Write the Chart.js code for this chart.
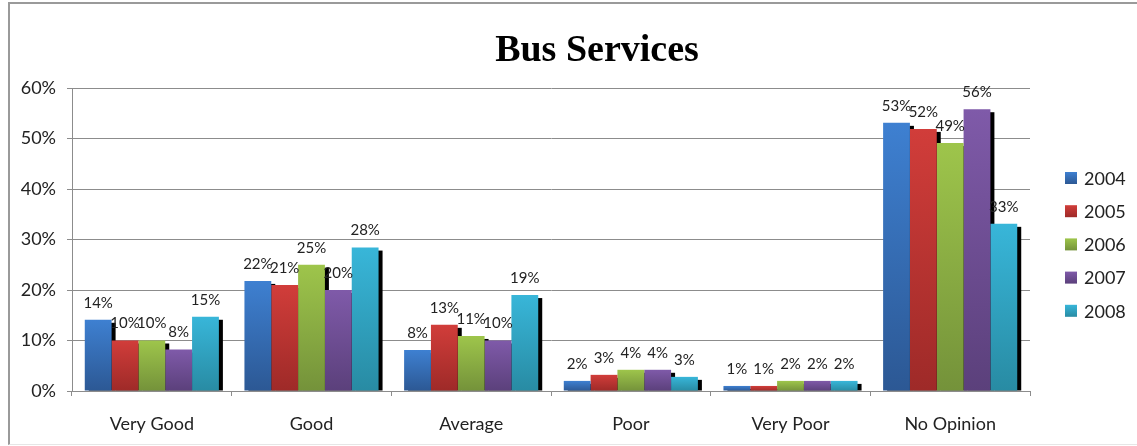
<!DOCTYPE html>
<html>
<head>
<meta charset="utf-8">
<script src="https://cdn.jsdelivr.net/npm/chart.js@4"></script>
<style>
  html, body { margin: 0; padding: 0; background: #fff; }
  #wrap { position: relative; width: 1137px; height: 446px; overflow: hidden; }
  #frame { position: absolute; left: 8px; top: 2px; width: 1140px; height: 440px;
           border-top: 2px solid #9a9a9a; border-left: 2px solid #9a9a9a; border-bottom: 1px solid #e6e6e6; }
  canvas { position: absolute; left: 0; top: 0; }
</style>
</head>
<body>
<div id="wrap">
  <div id="frame"></div>
  <canvas id="c" width="1137" height="446"></canvas>
</div>
<script>
// ---- data ----
const title = "Bus Services";
const categories = ["Very Good", "Good", "Average", "Poor", "Very Poor", "No Opinion"];
const seriesNames = ["2004", "2005", "2006", "2007", "2008"];
const s2004 = [14.1, 21.8, 8.1, 2.0, 1.0, 53.1];
const s2005 = [10.0, 21.0, 13.1, 3.2, 1.0, 51.9];
const s2006 = [10.0, 25.0, 10.9, 4.2, 2.0, 49.1];
const s2007 = [8.2, 20.0, 10.0, 4.2, 2.0, 55.8];
const s2008 = [14.7, 28.4, 19.0, 2.8, 2.0, 33.1];
const yTicks = [0, 10, 20, 30, 40, 50, 60];

// ---- styles ----
const colTop = ['#3E80D1', '#D13D3A', '#9EC54B', '#7F5AA9', '#38B6D9'];
const colBot = ['#2C5894', '#9E2A28', '#74923A', '#5B407B', '#288BA3'];
const FONT = "Lato, 'Open Sans', sans-serif";

function grad(chart, i, top, bot) {
  const g = chart.ctx.createLinearGradient(0, top, 0, bot);
  g.addColorStop(0, colTop[i]);
  g.addColorStop(1, colBot[i]);
  return g;
}

const seriesValues = [s2004, s2005, s2006, s2007, s2008];
const datasets = seriesValues.map((vals, i) => ({
  label: seriesNames[i],
  data: vals,
  clip: 0,
  backgroundColor: (ctx) => {
    const chart = ctx.chart;
    if (!chart.chartArea || !chart.scales.y || ctx.parsed == null) return colTop[i];
    const y = chart.scales.y;
    const t = y.getPixelForValue(ctx.parsed.y);
    const b = y.getPixelForValue(0);
    if (!(b > t)) return colTop[i];
    return grad(chart, i, t, b);
  },
  borderWidth: 0
}));

// drop shadows (offset right/down) drawn under all bars
const shadowPlugin = {
  id: 'shadow',
  beforeDatasetsDraw(chart) {
    const ctx = chart.ctx;
    const ca = chart.chartArea;
    ctx.save();
    ctx.beginPath();
    ctx.rect(ca.left, ca.top, ca.right - ca.left, ca.bottom - ca.top);
    ctx.clip();
    ctx.fillStyle = '#000';
    chart.data.datasets.forEach((ds, di) => {
      chart.getDatasetMeta(di).data.forEach(bar => {
        const w = bar.width;
        const top = bar.y + 3;
        const h = bar.base - top;
        if (h > 0) ctx.fillRect(bar.x - w / 2 + 4, top, w, h);
      });
    });
    ctx.restore();
  }
};

const labelsPlugin = {
  id: 'valLabels',
  afterDatasetsDraw(chart) {
    const ctx = chart.ctx;
    ctx.save();
    ctx.font = "15px " + FONT;
    ctx.fillStyle = '#222';
    ctx.textAlign = 'center';
    ctx.textBaseline = 'middle';
    chart.data.datasets.forEach((ds, di) => {
      const meta = chart.getDatasetMeta(di);
      meta.data.forEach((bar, j) => {
        ctx.fillText(Math.round(ds.data[j]) + '%', bar.x, bar.y - 17);
      });
    });
    ctx.restore();
  }
};

const titleLegendPlugin = {
  id: 'titleLegend',
  afterDraw(chart) {
    const ctx = chart.ctx;
    ctx.save();
    ctx.font = "bold 38px 'Liberation Serif', 'Times New Roman', serif";
    ctx.fillStyle = '#000';
    ctx.textAlign = 'center';
    ctx.textBaseline = 'alphabetic';
    ctx.fillText(title, 597, 61);
    // legend
    ctx.font = "18px " + FONT;
    ctx.textAlign = 'left';
    ctx.textBaseline = 'middle';
    chart.data.datasets.forEach((ds, i) => {
      const cy = 178 + i * 33.2;
      ctx.fillStyle = grad(chart, i, cy - 6, cy + 6);
      ctx.fillRect(1065, cy - 6, 12, 12);
      ctx.fillStyle = '#222';
      ctx.fillText(ds.label, 1084, cy + 1);
    });
    ctx.restore();
  }
};

new Chart(document.getElementById('c'), {
  type: 'bar',
  data: { labels: categories, datasets },
  plugins: [shadowPlugin, labelsPlugin, titleLegendPlugin],
  options: {
    responsive: false,
    animation: false,
    devicePixelRatio: 1,
    layout: { padding: { top: 88, right: 107, bottom: 0, left: 0 } },
    datasets: { bar: { categoryPercentage: 0.84, barPercentage: 1.0 } },
    plugins: { legend: { display: false }, title: { display: false }, tooltip: { enabled: false } },
    scales: {
      x: {
        grid: { display: true, drawOnChartArea: false, offset: true, color: '#8c8c8c', tickLength: 5 },
        border: { color: '#8c8c8c', width: 1 },
        ticks: { color: '#222', font: { family: FONT, size: 18 }, padding: 17, maxRotation: 0 },
        afterFit(scale) { scale.height = 446 - 391; }
      },
      y: {
        min: 0, max: 60,
        afterBuildTicks(scale) { scale.ticks = yTicks.map(v => ({ value: v })); },
        grid: { color: '#8c8c8c', tickLength: 5 },
        border: { color: '#8c8c8c', width: 1 },
        ticks: { color: '#222', font: { family: FONT, size: 18 }, padding: 11, callback: v => v + '%' },
        afterFit(scale) { scale.width = 72; }
      }
    }
  }
});
</script>
</body>
</html>
